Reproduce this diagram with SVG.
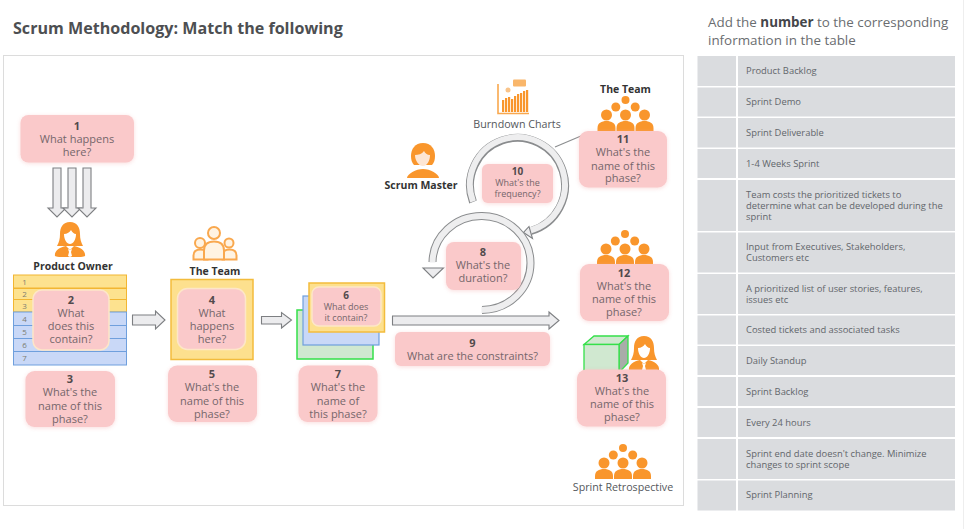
<svg xmlns="http://www.w3.org/2000/svg" width="964" height="529" viewBox="0 0 964 529">
<style>
text{font-family:"Open Sans","Liberation Sans",sans-serif}
.q{font-size:11px;fill:#75666a;text-anchor:middle}
.s{font-size:9px;fill:#75666a;text-anchor:middle}
.n{font-weight:700;fill:#524a4c}
.pink{fill:#fac9ca;filter:drop-shadow(0 1px 2px rgba(245,180,180,.45))}
.pe{fill:#fac9ca;stroke:#fde6c8;stroke-width:1.5}
.lab{font-size:10.5px;font-weight:700;fill:#333;text-anchor:middle}
.cap{font-size:10.7px;fill:#55585c;text-anchor:middle}
.cell{fill:#dadcdf}
.t{font-size:9.4px;fill:#62666b}
.ba{fill:#ececee;stroke:#7d7f82;stroke-width:1.1;stroke-linejoin:miter}
.o{fill:#f9962c}
.ol{fill:#fff3e2;stroke:#f9a84e;stroke-width:2}
.y1{fill:#fde28f;stroke:#f2b632}
.b1{fill:#c9d8f7;stroke:#6f9fdd}
</style>
<defs>
<g id="crowd" class="o">
<circle cx="0" cy="4" r="4"/><circle cx="-9.700" cy="11" r="4.500"/><circle cx="9.700" cy="11" r="4.500"/>
<circle cx="-19" cy="19" r="5.500"/><circle cx="0" cy="19" r="5.500"/><circle cx="19" cy="19" r="5.500"/>
<path d="M-28 35v-3c0-5 4-7 9-7s9 2 9 7v3z"/><path d="M-9 35v-3c0-5 4-7 9-7s9 2 9 7v3z"/><path d="M10 35v-3c0-5 4-7 9-7s9 2 9 7v3z"/>
</g>
<g id="woman">
<path class="o" d="M0 0c-7 0-10 5-10 12 0 5-1 8-3 12h26c-2-4-3-7-3-12 0-7-3-12-10-12z"/>
<path d="M-6 12c3 0 6-2 7-4 1 2 3 4 5 4 0 6-3 10-6 10s-6-4-6-10z" fill="#fff"/>
<path class="o" d="M-15 34c-1-5 5-9 11-10l4 4 4-4c6 1 12 5 11 10-1 1-5 1-15 1s-14 0-15-1z"/>
<path d="M-2 27l2 1 2-1-1 3 1 4-2 1-2-1 1-4z" fill="#fff"/>
</g>
</defs>

<rect x="3.500" y="55.500" width="680" height="450" fill="#fff" stroke="#dcdcdc"/>
<line x1="963.500" y1="0" x2="963.500" y2="529" stroke="#eee"/>
<text x="13" y="34" font-size="16.100" font-weight="700" fill="#4d4f52">Scrum Methodology: Match the following</text>
<text x="708" y="27" font-size="13.400" fill="#6a6d70">Add the <tspan font-weight="700" fill="#44464a">number</tspan> to the corresponding</text>
<text x="708" y="45" font-size="13.400" fill="#6a6d70">information in the table</text>

<g id="connectors">
<path class="ba" d="M53 168h8v40h5l-9 9-9-9h5z"/>
<path class="ba" d="M68 168h8v40h5l-9 9-9-9h5z"/>
<path class="ba" d="M83 168h8v40h5l-9 9-9-9h5z"/>
<path class="ba" d="M132.500 315h23v-4l9.500 9-9.500 9v-4h-23z"/>
<path class="ba" d="M261.500 316.500h20v-4l10 7.500-10 8v-4h-20z"/>
<path class="ba" d="M392.500 316h156.500v-4l10 8.500-10 8.500v-4h-156.500z"/>
<line x1="555" y1="147" x2="588" y2="133" stroke="#8c8e90" stroke-width="1.200"/>
<path d="M473 202A47.500 47.500 0 1 1 531 231" fill="none" stroke="#8a8c8e" stroke-width="8"/>
<path d="M473 201.500A47.500 47.500 0 1 1 530 230.500" fill="none" stroke="#eeeeef" stroke-width="6"/>
<polygon class="ba" points="523.500,232.500 532.500,238.500 529,226.500"/>
<path d="M482 310A49 47 0 1 0 432.500 262" fill="none" stroke="#8a8c8e" stroke-width="8"/>
<path d="M481.500 310A49 47 0 1 0 432.500 262.500" fill="none" stroke="#eeeeef" stroke-width="6"/>
<polygon class="ba" points="423,268 443.500,268 433,278"/>
</g>

<g id="q1"><rect class="pink" x="20.500" y="115" width="113.500" height="47.500" rx="8"/><text class="q"><tspan class="n" x="77" y="130">1</tspan><tspan x="77" y="143">What happens</tspan><tspan x="77" y="156">here?</tspan></text></g>

<g id="product-owner"><use href="#woman" x="70" y="222"/><text class="lab" x="73" y="270">Product Owner</text></g>

<g id="backlog-table" font-size="8">
<rect class="y1" x="13.500" y="275" width="113" height="13"/>
<rect class="y1" x="13.500" y="288.500" width="113" height="11"/>
<rect class="y1" x="13.500" y="299.500" width="113" height="12.500"/>
<rect class="b1" x="13.500" y="312" width="113" height="13.500"/>
<rect class="b1" x="13.500" y="325.500" width="113" height="13"/>
<rect class="b1" x="13.500" y="338.500" width="113" height="13"/>
<rect class="b1" x="13.500" y="351.500" width="113" height="13.500"/>
<g fill="#7d7d70" text-anchor="middle"><text x="24.500" y="285">1</text><text x="24.500" y="297">2</text><text x="24.500" y="309">3</text><text x="24.500" y="322">4</text><text x="24.500" y="335">5</text><text x="24.500" y="348">6</text><text x="24.500" y="361">7</text></g>
</g>
<g id="q2"><rect class="pe" x="33" y="290" width="76" height="60" rx="9"/><text class="q"><tspan class="n" x="71" y="304">2</tspan><tspan x="71" y="317">What</tspan><tspan x="71" y="330">does this</tspan><tspan x="71" y="343">contain?</tspan></text></g>
<g id="q3"><rect class="pink" x="25.500" y="371" width="89.500" height="56" rx="9"/><text class="q"><tspan class="n" x="70" y="383">3</tspan><tspan x="70" y="396">What's the</tspan><tspan x="70" y="410">name of this</tspan><tspan x="70" y="423">phase?</tspan></text></g>

<g id="team-left">
<g class="ol">
<path d="M193.500 259.500v-4c0-4 3-6 7-6s7 2 7 6v4z"/><circle cx="200" cy="243" r="5"/>
<path d="M222.500 259.500v-4c0-4 3-6 7-6s7 2 7 6v4z"/><circle cx="229" cy="243" r="4.500"/>
<path d="M204 259.500v-9c0-6 4-9 10-9s10 3 10 9v9z"/><circle cx="214" cy="233" r="6"/>
</g>
<text class="lab" x="215" y="275">The Team</text>
</g>
<g id="q4"><rect x="171" y="279.500" width="82" height="80" fill="#fde08e" stroke="#f3bc3c" stroke-width="1.500"/><rect class="pe" x="177.500" y="288.500" width="68" height="61" rx="10"/><text class="q"><tspan class="n" x="212" y="304">4</tspan><tspan x="212" y="317">What</tspan><tspan x="212" y="330">happens</tspan><tspan x="212" y="343">here?</tspan></text></g>
<g id="q5"><rect class="pink" x="168" y="365.500" width="89" height="56.500" rx="9"/><text class="q"><tspan class="n" x="212" y="378">5</tspan><tspan x="212" y="391">What's the</tspan><tspan x="212" y="405">name of this</tspan><tspan x="212" y="418">phase?</tspan></text></g>

<g id="q6">
<rect x="297" y="310" width="76" height="49" fill="#d0e8d0" stroke="#35e04a" stroke-width="1.500"/>
<rect x="303" y="296" width="76" height="49" fill="#c9d8f7" stroke="#6f9fdd" stroke-width="1.200"/>
<rect x="309" y="283" width="75.500" height="49" fill="#fde08e" stroke="#f3bc3c" stroke-width="1.500"/>
<rect class="pe" x="312" y="287" width="69" height="39" rx="7"/>
<text class="s"><tspan class="n" x="346" y="299" font-size="10">6</tspan><tspan x="346" y="310">What does</tspan><tspan x="346" y="321">it contain?</tspan></text>
</g>
<g id="q7"><rect class="pink" x="298.500" y="365.500" width="79" height="56.500" rx="9"/><text class="q"><tspan class="n" x="338" y="378">7</tspan><tspan x="338" y="391">What's the</tspan><tspan x="338" y="405">name of</tspan><tspan x="338" y="418">this phase?</tspan></text></g>

<g id="q9"><rect class="pink" x="395" y="332" width="155" height="34" rx="6"/><text class="q"><tspan class="n" x="472.500" y="347">9</tspan><tspan x="472.500" y="360">What are the constraints?</tspan></text></g>
<g id="q8"><rect class="pink" x="446" y="242" width="75" height="48" rx="8"/><text class="q"><tspan class="n" x="483" y="256">8</tspan><tspan x="483" y="269">What's the</tspan><tspan x="483" y="282">duration?</tspan></text></g>
<g id="q10"><rect class="pink" x="482" y="164" width="71" height="39" rx="6"/><text class="s"><tspan class="n" x="517.500" y="175" font-size="10">10</tspan><tspan x="517.500" y="186">What's the</tspan><tspan x="517.500" y="197">frequency?</tspan></text></g>

<g id="scrum-master">
<path class="o" d="M423 143c-8 0-12 6-12 13 0 4 1 7 3 9h18c2-2 3-5 3-9 0-7-4-13-12-13z"/>
<path d="M415 155c3 0 7-1 9-4 1 2 3 4 6 4 0 6-3 11-7 11s-8-5-8-11z" fill="#fde6d4"/>
<path class="o" d="M407 178c0-4 9-9 16-9s16 5 16 9z"/>
<text class="lab" x="421" y="189">Scrum Master</text>
</g>

<g id="burndown">
<path d="M498 84v29.500h31" fill="none" stroke="#f9a84e" stroke-width="1.600"/>
<g class="o"><rect x="502" y="100" width="2.200" height="12"/><rect x="505" y="98" width="2.200" height="14"/><rect x="508" y="97" width="2.200" height="15"/><rect x="511" y="99" width="2.200" height="13"/><rect x="514" y="96" width="2.200" height="16"/><rect x="517" y="94" width="2.200" height="18"/><rect x="520" y="93" width="2.200" height="19"/><rect x="523" y="91" width="2.200" height="21"/><rect x="526" y="90" width="2.200" height="22"/></g>
<rect x="513" y="79.500" width="13" height="7" rx="1" fill="#f9b66a"/><circle cx="508" cy="90" r="2.500" fill="#f9c48a"/>
<text class="cap" x="517" y="128">Burndown Charts</text>
</g>

<g id="team-top"><text class="lab" x="625.500" y="93">The Team</text><use href="#crowd" x="625.500" y="96"/></g>
<g id="q11"><rect class="pink" x="579" y="131" width="88" height="56.500" rx="9"/><text class="q"><tspan class="n" x="623" y="143">11</tspan><tspan x="623" y="156">What's the</tspan><tspan x="623" y="170">name of this</tspan><tspan x="623" y="182">phase?</tspan></text></g>

<g id="team-mid"><use href="#crowd" x="625" y="230"/></g>
<g id="q12"><rect class="pink" x="580" y="264" width="89" height="57" rx="9"/><text class="q"><tspan class="n" x="624" y="277">12</tspan><tspan x="624" y="290">What's the</tspan><tspan x="624" y="303">name of this</tspan><tspan x="624" y="316">phase?</tspan></text></g>

<g id="box-owner">
<polygon points="584,344.500 594,336 628,336 619,344.500" fill="#d0e8d0" stroke="#35e04a" stroke-width="1.300"/>
<polygon points="619,344.500 628,336 628,363 619,372.500" fill="#a9aca9" stroke="#35e04a" stroke-width="1.300"/>
<rect x="584" y="344.500" width="35" height="28" fill="#d0e8d0" stroke="#35e04a" stroke-width="1.300"/>
<use href="#woman" x="644" y="336"/>
</g>
<g id="q13"><rect class="pink" x="577" y="369.500" width="89" height="57" rx="9"/><text class="q"><tspan class="n" x="622" y="382">13</tspan><tspan x="622" y="395">What's the</tspan><tspan x="622" y="408">name of this</tspan><tspan x="622" y="421">phase?</tspan></text></g>

<g id="retrospective"><use href="#crowd" x="623" y="444"/><text class="cap" x="623" y="491">Sprint Retrospective</text></g>

<g id="answer-table">
<g class="cell">
<rect x="697.500" y="56" width="38.500" height="30"/><rect x="738" y="56" width="217" height="30"/>
<rect x="697.500" y="87.500" width="38.500" height="29"/><rect x="738" y="87.500" width="217" height="29"/>
<rect x="697.500" y="118" width="38.500" height="29.500"/><rect x="738" y="118" width="217" height="29.500"/>
<rect x="697.500" y="149" width="38.500" height="29"/><rect x="738" y="149" width="217" height="29"/>
<rect x="697.500" y="180" width="38.500" height="51"/><rect x="738" y="180" width="217" height="51"/>
<rect x="697.500" y="232.500" width="38.500" height="40"/><rect x="738" y="232.500" width="217" height="40"/>
<rect x="697.500" y="274" width="38.500" height="40"/><rect x="738" y="274" width="217" height="40"/>
<rect x="697.500" y="315.500" width="38.500" height="29"/><rect x="738" y="315.500" width="217" height="29"/>
<rect x="697.500" y="346" width="38.500" height="29"/><rect x="738" y="346" width="217" height="29"/>
<rect x="697.500" y="377" width="38.500" height="29"/><rect x="738" y="377" width="217" height="29"/>
<rect x="697.500" y="408" width="38.500" height="29"/><rect x="738" y="408" width="217" height="29"/>
<rect x="697.500" y="439" width="38.500" height="40"/><rect x="738" y="439" width="217" height="40"/>
<rect x="697.500" y="480.500" width="38.500" height="30"/><rect x="738" y="480.500" width="217" height="30"/>
</g>
<g class="t">
<text x="746" y="73.500">Product Backlog</text>
<text x="746" y="104.500">Sprint Demo</text>
<text x="746" y="135.500">Sprint Deliverable</text>
<text x="746" y="166.500">1-4 Weeks Sprint</text>
<text x="746" y="197.500">Team costs the prioritized tickets to</text>
<text x="746" y="208.500">determine what can be developed during the</text>
<text x="746" y="219.500">sprint</text>
<text x="746" y="249.500">Input from Executives, Stakeholders,</text>
<text x="746" y="260.500">Customers etc</text>
<text x="746" y="291.500">A prioritized list of user stories, features,</text>
<text x="746" y="302.500">issues etc</text>
<text x="746" y="332.500">Costed tickets and associated tasks</text>
<text x="746" y="363.500">Daily Standup</text>
<text x="746" y="394.500">Sprint Backlog</text>
<text x="746" y="425.500">Every 24 hours</text>
<text x="746" y="456.500">Sprint end date doesn't change. Minimize</text>
<text x="746" y="467.500">changes to sprint scope</text>
<text x="746" y="497.500">Sprint Planning</text>
</g>
</g>
</svg>
